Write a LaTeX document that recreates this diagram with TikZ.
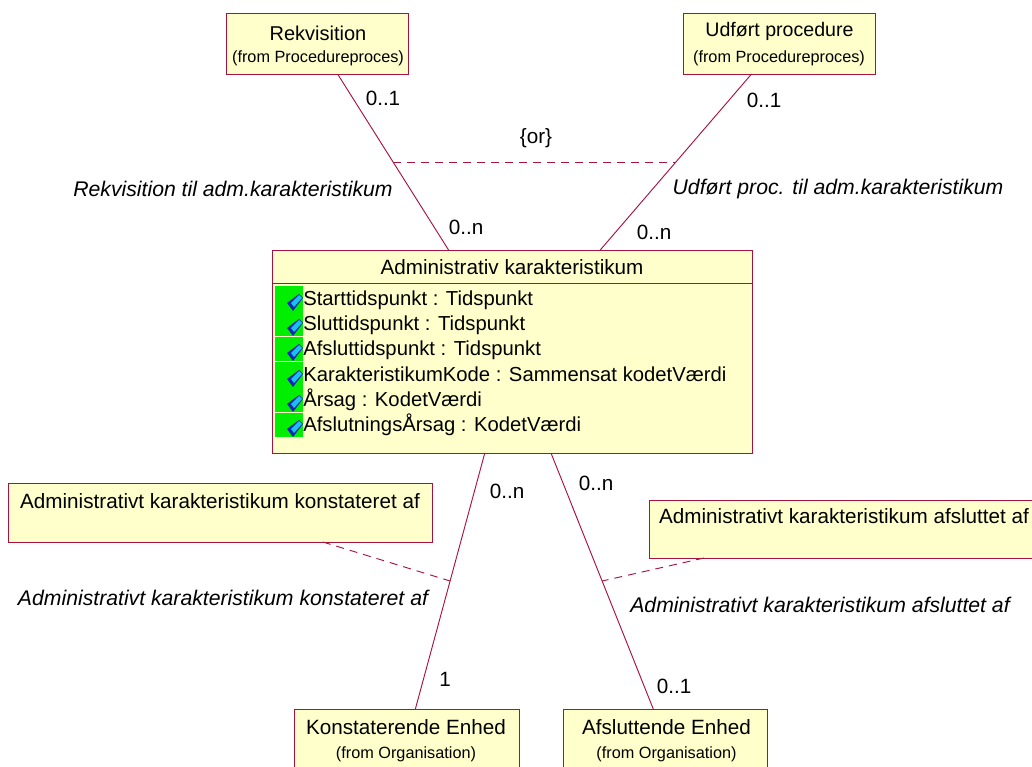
\documentclass[tikz,border=0pt]{standalone}
\usepackage{fontspec}
\setmainfont{Liberation Sans}
\usepackage{tikz}
\usetikzlibrary{positioning, calc}
\definecolor{umlline}{HTML}{A8123F}
\definecolor{umlfill}{HTML}{FFFFCB}
\definecolor{umlgreen}{HTML}{00EE00}
\definecolor{umlblue}{HTML}{1CC0F0}
\definecolor{umldark}{HTML}{1428B0}
\newcommand{\sz}{\fontsize{15.5}{18}\selectfont}
\newcommand{\szs}{\fontsize{12.2}{14}\selectfont}
\newcommand{\szi}{\fontsize{15.9}{18}\selectfont}
\newcommand{\sza}{\fontsize{15.2}{18}\selectfont}
\begin{document}
\begin{tikzpicture}[x=.75pt, y=-.75pt,
  Box/.style={draw=umlline, fill=umlfill, line width=.7pt, inner sep=0pt, outer sep=0pt},
  Lbl/.style={font=\sz, inner sep=0pt},
  Sub/.style={font=\szs, inner sep=0pt},
  Role/.style={font=\szi\itshape, inner sep=0pt},
  Attr/.style={font=\sza, inner sep=0pt, anchor=base west},
  Strip/.style={fill=umlgreen, inner sep=0pt, minimum width=21pt},
  Assoc/.style={draw=umlline, line width=.7pt},
  Link/.style={draw=umlline, line width=.7pt, dash pattern=on 6pt off 4.5pt}]
  \useasboundingbox (0,0) rectangle (1032,767);
  % classes
  \node [Box, minimum width=136.5pt, minimum height=45.75pt] (Rekv) at (317,43.5) {};
  \node [Box, minimum width=144pt, minimum height=45.75pt] (Udf) at (779,43.5) {};
  \node [Box, minimum width=360pt, minimum height=152.25pt] (Admin) at (512,351.5) {};
  \node [Box, minimum width=168.75pt, minimum height=43.5pt] (Konst) at (406.5,738) {};
  \node [Box, minimum width=153pt, minimum height=43.5pt] (Afsl) at (665,738) {};
  \node [Box, minimum width=318pt, minimum height=44.25pt] (NoteK) at (220,512.5) {};
  \node [Box, minimum width=287.25pt, minimum height=43.5pt] (NoteA) at (840.5,529) {};
  \draw [Assoc] (Admin.west |- 0,283) -- (Admin.east |- 0,283);
  % texts in the boxes
  \node [Lbl, font=\fontsize{15}{18}\selectfont] (RekvName) at (318,33) {Rekvisition};
  \node [Sub] (RekvFrom) at (318,58) {(from Procedureproces)};
  \node [Lbl, font=\fontsize{14.7}{18}\selectfont] (UdfName) at (779.5,31) {Udført procedure};
  \node [Sub] (UdfFrom) at (779,58) {(from Procedureproces)};
  \node [Lbl] (AdminName) at (512,267) {Administrativ karakteristikum};
  \node [Lbl] (KonstName) at (406,727) {Konstaterende Enhed};
  \node [Sub] (KonstFrom) at (406,754) {(from Organisation)};
  \node [Lbl] (AfslName) at (666.5,727) {Afsluttende Enhed};
  \node [Sub] (AfslFrom) at (666.5,754) {(from Organisation)};
  \node [Lbl] (NoteKName) at (220,501) {Administrativt karakteristikum konstateret af};
  \node [Lbl] (NoteAName) at (844,516) {Administrativt karakteristikum afsluttet af};
  % green strips
  \node [Strip, minimum height=37.5pt] (StripA) at (289,311) {};
  \node [Strip, minimum height=18pt] (StripB) at (289,349) {};
  \node [Strip, minimum height=37.5pt] (StripC) at (289,387) {};
  \node [Strip, minimum height=18pt] (StripD) at (289,425) {};
  % attributes
  \foreach \yy/\attr in {305/Starttidspunkt : Tidspunkt, 330/Sluttidspunkt : Tidspunkt,
    355/Afsluttidspunkt : Tidspunkt, 381/KarakteristikumKode : Sammensat kodetVærdi,
    406/Årsag : KodetVærdi, 431/AfslutningsÅrsag : KodetVærdi} {
    \fill [umldark] (287,\yy-2) -- (299,\yy-11) -- (303,\yy-7) -- (293,\yy+6) -- cycle;
    \fill [umlblue] (291,\yy-2) -- (299,\yy-10) -- (302,\yy-7) -- (294,\yy+2) -- cycle;
    \node [Attr] at (303,\yy) {\attr};
  }
  % associations
  \draw [Assoc] (Rekv.-56.7) -- coordinate [pos=.5] (RekvMid) (Admin.122.2);
  \draw [Assoc] (Udf.-132.6) -- coordinate [pos=.5] (UdfMid) (Admin.49.1);
  \draw [Assoc] (Admin.-105.4) -- coordinate [pos=.5] (KonstMid) (Konst.73.7);
  \draw [Assoc] (Admin.-69) -- coordinate [pos=.5] (AfslMid) (Afsl.112.5);
  \draw [Link] (RekvMid) -- (UdfMid);
  \draw [Link] (NoteK.-16.8) -- (KonstMid);
  \draw [Link] (NoteA.-168.3) -- (AfslMid);
  % labels
  \node [Lbl] (RekvOne) at (383,98) {0..1};
  \node [Lbl] (UdfOne) at (764,100) {0..1};
  \node [Lbl] (OrLbl) at (536,138) {\{or\}};
  \node [Role] (RekvRole) at (233,189) {Rekvisition til adm.karakteristikum};
  \node [Role] (UdfRole) at (838,189) {Udført proc. til adm.karakteristikum};
  \node [Lbl] (RekvN) at (466,227) {0..n};
  \node [Lbl] (UdfN) at (654,232) {0..n};
  \node [Lbl] (KonstN) at (507,491) {0..n};
  \node [Lbl] (AfslN) at (596,483) {0..n};
  \node [Role] (KonstRole) at (223,598) {Administrativt karakteristikum konstateret af};
  \node [Role] (AfslRole) at (820,605) {Administrativt karakteristikum afsluttet af};
  \node [Lbl] (KonstOne) at (445,679) {1};
  \node [Lbl] (AfslOne) at (674,686) {0..1};
\end{tikzpicture}
\end{document}
